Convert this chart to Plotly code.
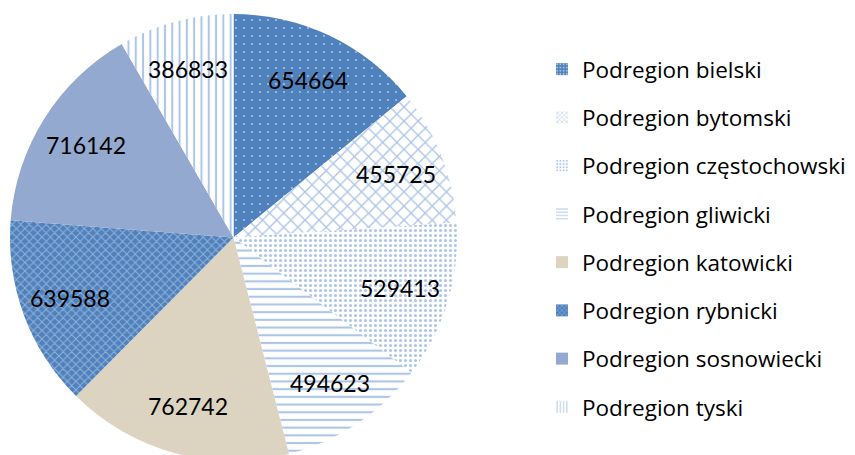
import math
import plotly.graph_objects as go

labels = ["Podregion bielski", "Podregion bytomski", "Podregion częstochowski",
          "Podregion gliwicki", "Podregion katowicki", "Podregion rybnicki",
          "Podregion sosnowiecki", "Podregion tyski"]
values = [654664, 455725, 529413, 494623, 762742, 639588, 716142, 386833]
value_text = ["654664", "455725", "529413", "494623", "762742", "639588", "716142", "386833"]

BLUE = "#4F81BD"
LINE = "#5B8BD0"
bg_colors = [BLUE, "white", "white", "white", "#DCD4C1", BLUE, "#94A9D0", "white"]
fg_colors = ["white", LINE, LINE, LINE, "#DCD4C1", "#D6E2F3", "#94A9D0", LINE]
shapes = [".", "x", ".", "-", "", "x", "", "|"]
sizes = [8, 10, 5, 7.7, 8, 6, 8, 7.3]
solid = [0.06, 0.25, 0.3, 0.28, 0.3, 0.3, 0.3, 0.28]

W, H = 855, 455
FONT = "Lato"

# page has an 8px body margin: figure px = screen px - 8
OFF = 8
cx_scr, cy_scr, rad = 233.5, 237.5, 223.5
cx_px, cy_px = cx_scr - OFF, cy_scr - OFF

fig = go.Figure()

fig.add_trace(go.Pie(
    labels=labels, values=values, sort=False, direction="clockwise", rotation=0,
    textinfo="none", showlegend=False, hoverinfo="label+value",
    marker=dict(colors=bg_colors, line=dict(width=0),
                pattern=dict(shape=shapes, fgcolor=fg_colors, bgcolor=bg_colors,
                             size=sizes, solidity=solid, fillmode="overlay")),
    domain=dict(x=[(cx_px - rad) / W, (cx_px + rad) / W],
                y=[1 - (cy_px + rad) / H, 1 - (cy_px - rad) / H]),
))

# legend entries
for i, lab in enumerate(labels):
    fig.add_trace(go.Bar(
        x=[None], y=[None], name=lab, legendgroup=str(i), showlegend=True,
        marker=dict(color=bg_colors[i], line=dict(width=0),
                    pattern=dict(shape=shapes[i], fgcolor=fg_colors[i], bgcolor=bg_colors[i],
                                 size=4 if shapes[i] else 8, solidity=0.3, fillmode="overlay")),
    ))

# value labels at slice mid-angles
total = sum(values)
cum = 0
annotations = []
for v, t in zip(values, value_text):
    mid = (cum + v / 2) / total * 2 * math.pi
    cum += v
    r = 0.78 * rad
    x_px = cx_px + r * math.sin(mid)
    y_px = cy_px - r * math.cos(mid)
    annotations.append(dict(x=x_px / W, y=1 - y_px / H, xref="paper", yref="paper",
                            xanchor="center", yanchor="middle",
                            text=t, showarrow=False,
                            font=dict(family=FONT, size=23, color="black")))

fig.update_layout(
    width=W, height=H, margin=dict(l=0, r=0, t=0, b=0),
    paper_bgcolor="white", plot_bgcolor="white",
    xaxis=dict(visible=False), yaxis=dict(visible=False),
    annotations=annotations,
    legend=dict(x=534 / W, y=1 - 40 / H, xanchor="left", yanchor="top",
                font=dict(family="Open Sans", size=22.5, color="black"),
                tracegroupgap=16, itemclick=False, itemdoubleclick=False),
    font=dict(family=FONT),
)

fig.write_html("out.html")
